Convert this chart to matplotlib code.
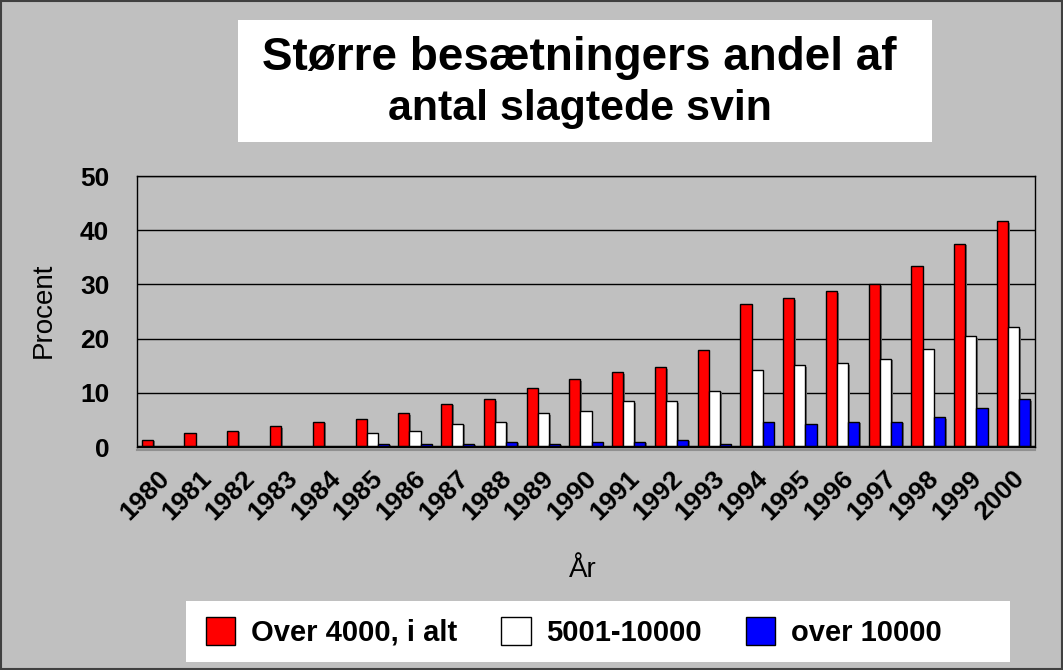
import matplotlib.pyplot as plt
import matplotlib.transforms as mtransforms
import numpy as np
from matplotlib.patches import Rectangle

plt.rcParams['font.family'] = ['Liberation Sans', 'DejaVu Sans']

# data
years = [str(y) for y in range(1980, 2001)]
over_4000 = [1.35, 2.6, 3.0, 3.8, 4.7, 5.1, 6.3, 8.0, 8.8, 10.9, 12.5,
             13.8, 14.7, 17.9, 26.3, 27.5, 28.8, 30.0, 33.4, 37.5, 41.7]
r5001_10000 = [0, 0, 0, 0, 0, 2.6, 3.0, 4.3, 4.7, 6.3, 6.7,
               8.4, 8.4, 10.4, 14.2, 15.1, 15.5, 16.3, 18.0, 20.5, 22.1]
over_10000 = [0, 0, 0, 0, 0, 0.6, 0.6, 0.6, 1.0, 0.6, 1.0,
              1.0, 1.35, 0.55, 4.7, 4.3, 4.7, 4.7, 5.5, 7.2, 8.8]
series_names = ['Over 4000, i alt', '5001-10000', 'over 10000']
yticks = [0, 10, 20, 30, 40, 50]

grey = '#c0c0c0'
fig = plt.figure(figsize=(10.63, 6.70), dpi=100, facecolor=grey)
ax = fig.add_axes([0.1289, 0.3328, 0.8448, 0.4045], facecolor=grey)

x = np.arange(len(years))
w = 0.26
colors = ['#ff0000', '#ffffff', '#0000ff']
all_series = [over_4000, r5001_10000, over_10000]
bars = []
for i, vals in enumerate(all_series):
    off = (i - 1) * w
    # drop shadow
    ax.bar(x + off + 0.04, vals, w, bottom=-0.3, color='#707070', zorder=2)
    b = ax.bar(x + off, vals, w, color=colors[i], edgecolor='black',
               linewidth=1, zorder=3, label=series_names[i])
    bars.append(b)

ax.set_xlim(-0.5, len(years) - 0.5)
ax.set_ylim(0, 50)
ax.set_yticks(yticks)
ax.set_yticklabels([str(t) for t in yticks], fontsize=19, fontweight='bold')
ax.set_xticks(x)
ax.set_xticklabels(years, fontsize=19, fontweight='bold', rotation=45,
                   ha='right', va='center', rotation_mode='anchor')
ax.tick_params(axis='y', length=0, pad=20)
ax.tick_params(axis='x', length=0, pad=20)
shift = mtransforms.ScaledTranslation(0.07, 0, fig.dpi_scale_trans)
for lbl in ax.get_xticklabels():
    lbl.set_transform(lbl.get_transform() + shift)
ax.yaxis.grid(True, color='black', linewidth=1)
ax.set_axisbelow(True)
for s in ax.spines.values():
    s.set_color('black')
    s.set_linewidth(1)
ax.axhline(0, color='black', linewidth=2.5, zorder=4)
# faint shadow line under the plot area
fig.add_artist(plt.Line2D([137 / 1063, 1035 / 1063], [1 - 450 / 670, 1 - 450 / 670],
                          color='#909090', linewidth=1.5))

fig.text(44 / 1063, 1 - 310 / 670, 'Procent', fontsize=20, rotation=90,
         ha='center', va='center')
fig.text(583 / 1063, 1 - 570 / 670, 'År', fontsize=20, ha='center', va='center')

# title box
fig.patches.append(Rectangle((238 / 1063, 1 - 142 / 670), 694 / 1063, 122 / 670,
                             transform=fig.transFigure, facecolor='white',
                             edgecolor='none', zorder=0))
fig.text(579 / 1063, 1 - 58 / 670, 'Større besætningers andel af', fontsize=33,
         fontweight='bold', ha='center', va='center')
fig.text(580 / 1063, 1 - 109 / 670, 'antal slagtede svin', fontsize=31,
         fontweight='bold', ha='center', va='center')

# legend box
fig.patches.append(Rectangle((186 / 1063, 1 - 662 / 670), 824 / 1063, 61 / 670,
                             transform=fig.transFigure, facecolor='white',
                             edgecolor='none', zorder=0))
leg = fig.legend(handles=bars, labels=series_names, ncol=3,
                 loc='center', bbox_to_anchor=(574 / 1063, 1 - 632 / 670),
                 frameon=False, prop={'size': 21, 'weight': 'bold'},
                 handlelength=1.0, handleheight=1.1, columnspacing=1.5,
                 handletextpad=0.55)

# outer border
fig.patches.append(Rectangle((0.001, 0.001), 0.998, 0.997, transform=fig.transFigure,
                             facecolor='none', edgecolor='#404040', linewidth=1.5))

fig.savefig('out.png', dpi=100, facecolor=grey)
